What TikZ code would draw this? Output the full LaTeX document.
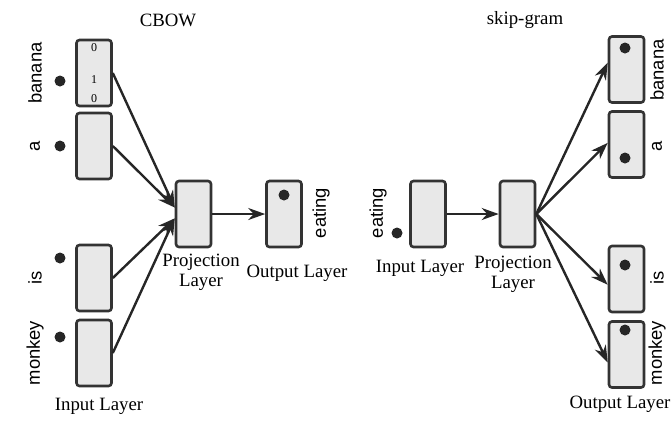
\documentclass[tikz,border=0pt]{standalone}
\usepackage{fontspec}
\setmainfont{Liberation Serif}
\setsansfont{Liberation Sans}
\usetikzlibrary{arrows.meta}

\definecolor{boxfill}{HTML}{E8E8E8}
\definecolor{boxline}{HTML}{333333}

\begin{document}
\begin{tikzpicture}[
		x=0.5pt, y=-0.5pt,
		vecnode/.style={
		% The shape:
		rectangle, rounded corners=1.5pt,
		% The size:
		minimum width=17.5pt, minimum height=33pt, inner sep=0pt,
		% The border:
		line width=1.3pt,
		draw=boxline,
		% The filling:
		fill=boxfill
    		},
		onehot/.style={circle, fill=black!85, inner sep=0pt, minimum size=5.5pt},
		wordlabel/.style={rotate=90, font=\sffamily\fontsize{9.2}{10}\selectfont},
		layerlabel/.style={align=center, font=\fontsize{9.4}{10}\selectfont},
		digit/.style={font=\fontsize{6}{6}\selectfont, inner sep=0pt},
		flow/.style={-{Stealth[length=8.5pt,width=6pt]}, line width=1.2pt, draw=black!85}
	]
	\useasboundingbox (0,0) rectangle (672,425);

	% CBOW
	\node (TL) at (168,20) {\fontsize{9.4}{10}\selectfont CBOW};

	\node (IBanana)[vecnode] at (94,73) {};
	\node (IA)[vecnode] at (94,146) {};
	\node (IIs)[vecnode] at (94,278) {};
	\node (IMonkey)[vecnode] at (94,353) {};
	\node (D1)[digit] at (94,48) {0};
	\node (D2)[digit] at (94,80) {1};
	\node (D3)[digit] at (94,99) {0};

	\node (PL)[vecnode] at (193.5,214) {};
	\node (OL)[vecnode] at (284,214) {};

	\node (DBanana)[onehot] at (60,81) {};
	\node (DA)[onehot] at (60,146) {};
	\node (DIs)[onehot] at (60,258) {};
	\node (DMonkey)[onehot] at (60,337) {};
	\node (DEat)[onehot] at (284,195) {};

	\node (WBanana)[wordlabel] at (35,73) {banana};
	\node (WA)[wordlabel] at (35,146) {a};
	\node (WIs)[wordlabel] at (35,278) {is};
	\node (WMonkey)[wordlabel] at (35,353) {monkey};
	\node (WEat)[wordlabel] at (321,213) {eating};

	\node (LIn)[layerlabel] at (99,406) {Input Layer};
	\node (LProj)[layerlabel] at (201,272) {Projection\\Layer};
	\node (LOut)[layerlabel] at (297,273) {Output Layer};

	\draw [flow] (IBanana.east) -- (PL.161);
	\draw [flow] (IA.east) -- (PL.161);
	\draw [flow] (IIs.east) -- (PL.193);
	\draw [flow] (IMonkey.east) -- (PL.193);
	\draw [flow] (PL) -- (OL);

	% skip-gram
	\node (TR) at (525,20) {\fontsize{9.4}{10}\selectfont skip-gram};

	\node (IR)[vecnode] at (428,214) {};
	\node (PR)[vecnode] at (517.5,214) {};

	\node (OBanana)[vecnode] at (626.5,69.5) {};
	\node (OA)[vecnode] at (626.5,144.5) {};
	\node (OIs)[vecnode] at (626.5,279) {};
	\node (OMonkey)[vecnode] at (626.5,354.5) {};

	\node (REat)[onehot] at (397,233) {};
	\node (RBanana)[onehot] at (625,48) {};
	\node (RA)[onehot] at (625,158) {};
	\node (RIs)[onehot] at (625,265) {};
	\node (RMonkey)[onehot] at (625,330) {};

	\node (VEat)[wordlabel] at (378,213) {eating};
	\node (VBanana)[wordlabel] at (657,70) {banana};
	\node (VA)[wordlabel] at (657,146) {a};
	\node (VIs)[wordlabel] at (657,278) {is};
	\node (VMonkey)[wordlabel] at (657,353) {monkey};

	\node (MIn)[layerlabel] at (420,268) {Input Layer};
	\node (MProj)[layerlabel] at (513,274) {Projection\\Layer};
	\node (MOut)[layerlabel] at (620,404) {Output Layer};

	\draw [flow] (IR) -- (PR);
	\draw [flow] (PR.east) -- (OBanana.160);
	\draw [flow] (PR.east) -- (OA.175);
	\draw [flow] (PR.east) -- (OIs.197);
	\draw [flow] (PR.east) -- (OMonkey.203);
\end{tikzpicture}
\end{document}
